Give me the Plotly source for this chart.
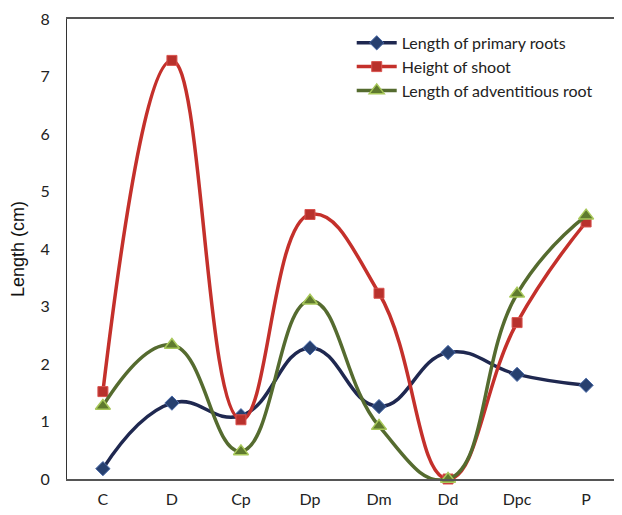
import plotly.graph_objects as go

categories = ["C", "D", "Cp", "Dp", "Dm", "Dd", "Dpc", "P"]
primary_roots = [0.18, 1.32, 1.10, 2.28, 1.26, 2.20, 1.82, 1.63]
shoot_height = [1.52, 7.28, 1.03, 4.60, 3.23, 0.0, 2.72, 4.47]
adventitious_root = [1.27, 2.33, 0.48, 3.10, 0.92, 0.0, 3.22, 4.58]
y_ticks = [0, 1, 2, 3, 4, 5, 6, 7, 8]

x = list(range(len(categories)))
fig = go.Figure()
fig.add_trace(go.Scatter(
    x=x, y=primary_roots, name="Length of primary roots", mode="lines+markers",
    line=dict(color="#1f2850", width=3.5, shape="spline", smoothing=1.3),
    marker=dict(symbol="diamond", size=11, color="#27406f", line=dict(color="#4a6aa8", width=1)),
    cliponaxis=False,
))
fig.add_trace(go.Scatter(
    x=x, y=shoot_height, name="Height of shoot", mode="lines+markers",
    line=dict(color="#c4302b", width=3.5, shape="spline", smoothing=1.3),
    marker=dict(symbol="square", size=10, color="#b8312c", line=dict(color="#d9534f", width=1)),
    cliponaxis=False,
))
fig.add_trace(go.Scatter(
    x=x, y=adventitious_root, name="Length of adventitious root", mode="lines+markers",
    line=dict(color="#556b2f", width=3.5, shape="spline", smoothing=1.3),
    marker=dict(symbol="triangle-up", size=13, color="#5f7a2e", line=dict(color="#a8c85a", width=1.5)),
    cliponaxis=False,
))

fig.update_layout(
    width=614, height=507,
    margin=dict(l=59, r=0, t=11, b=36),
    paper_bgcolor="white", plot_bgcolor="white",
    font=dict(family="Lato, sans-serif", color="#222", size=16),
    showlegend=True,
    legend=dict(x=0.513, y=0.985, xanchor="left", yanchor="top",
                font=dict(size=16, color="#222"), bgcolor="rgba(0,0,0,0)",
                tracegroupgap=0, itemwidth=40),
    xaxis=dict(
        range=[-0.52, 7.52], tickmode="array", tickvals=x, ticktext=categories,
        showgrid=False, zeroline=False, showline=True, linecolor="#555", linewidth=1.5,
        mirror=True, ticks="", ticklabelstandoff=5, tickfont=dict(size=16, color="#222"),
    ),
    yaxis=dict(
        range=[0, 8], tickvals=y_ticks, showgrid=False, zeroline=False,
        showline=True, linecolor="#333", linewidth=1.2, ticks="",
        ticklabelstandoff=13, tickfont=dict(size=16, color="#222"),
        title=dict(text="Length (cm)", font=dict(family="Liberation Sans, Arial, sans-serif", size=18, color="#111"), standoff=12),
    ),
)
fig.write_html("out.html")
